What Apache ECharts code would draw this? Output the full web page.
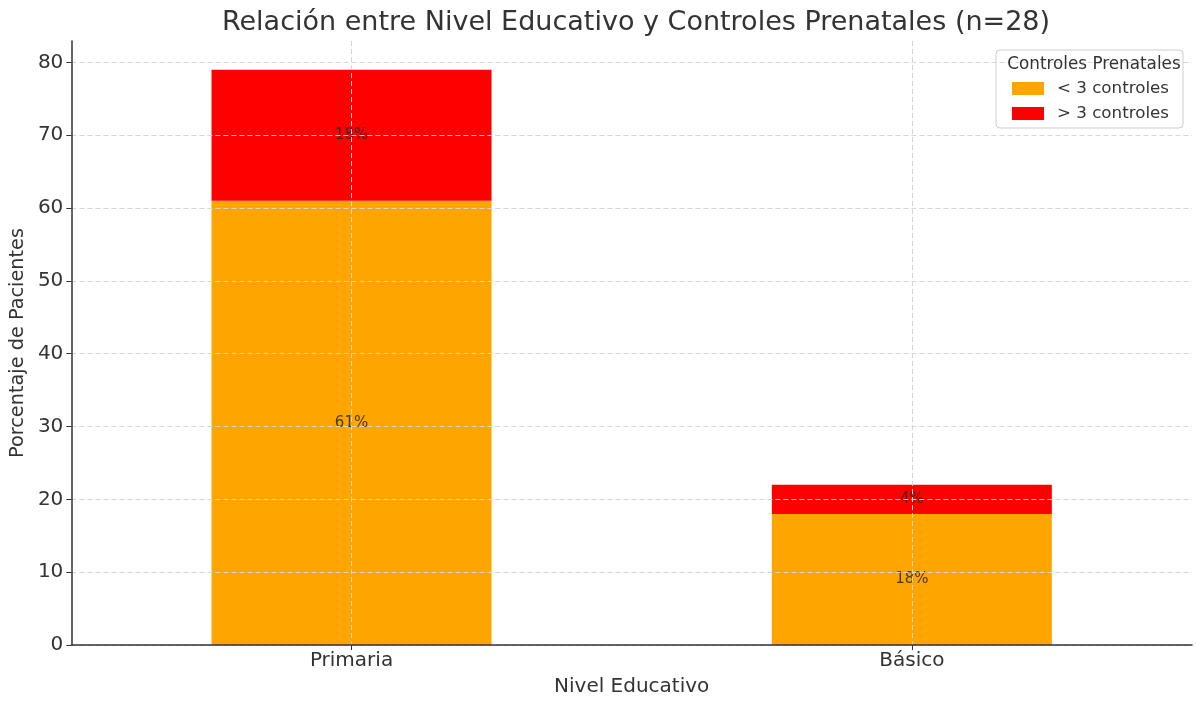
<!DOCTYPE html>
<html>
<head>
<meta charset="utf-8">
<script src="https://cdn.jsdelivr.net/npm/echarts@6/dist/echarts.min.js"></script>
<style>
    html, body { margin: 0; padding: 0; background: #fff; }
    #chart { width: 1196px; height: 702px; }
</style>
</head>
<body>
<div id="chart"></div>
<script>
    // datos
    const categorias = ['Primaria', 'Básico'];
    const menosDe3 = [61, 18];
    const masDe3 = [18, 4];
    const nombresSeries = ['< 3 controles', '> 3 controles'];
    const yMax = 82.95;

    const fuente = 'DejaVu Sans, sans-serif';
    const chart = echarts.init(document.getElementById('chart'));

    const etiqueta = {
        show: true,
        position: 'inside',
        color: 'rgba(40,40,40,0.85)',
        fontSize: 15,
        fontFamily: fuente,
        formatter(p) { return p.value + '%'; }
    };

    chart.setOption({
        backgroundColor: '#ffffff',
        animation: false,
        title: [{
            text: 'Relación entre Nivel Educativo y Controles Prenatales (n=28)',
            left: 631,
            top: 4,
            textAlign: 'center',
            textStyle: { color: '#333', fontSize: 27, fontWeight: 'normal', fontFamily: fuente }
        }, {
            text: 'Controles Prenatales',
            left: 1089,
            top: 51,
            textAlign: 'center',
            textStyle: { color: '#333', fontSize: 16.8, fontWeight: 'normal', fontFamily: fuente }
        }],
        legend: {
            orient: 'vertical',
            right: 13,
            top: 50,
            padding: [30, 14, 6, 16],
            itemWidth: 32,
            itemHeight: 13,
            itemGap: 8,
            borderColor: '#cccccc',
            borderWidth: 1,
            borderRadius: 4,
            icon: 'rect',
            textStyle: { color: '#333', fontSize: 16.7, fontFamily: fuente, padding: [0, 0, 0, 8] },
            data: nombresSeries
        },
        grid: {
            left: 70,
            right: 4,
            top: 41,
            bottom: 52,
            containLabel: false
        },
        xAxis: {
            type: 'category',
            data: categorias,
            z: 3,
            name: 'Nivel Educativo',
            nameLocation: 'middle',
            nameGap: 32,
            nameTextStyle: { color: '#333', fontSize: 20, fontFamily: fuente },
            axisLine: { lineStyle: { color: '#333', width: 1.5 } },
            axisTick: { show: true, alignWithLabel: true, length: 5, lineStyle: { color: '#333' } },
            axisLabel: { color: '#333', fontSize: 20, fontFamily: fuente, margin: 6 },
            splitLine: {
                show: true,
                alignWithLabel: true,
                lineStyle: { color: '#d6d6d6', type: [5, 3], width: 1 }
            }
        },
        yAxis: {
            type: 'value',
            min: 0,
            max: yMax,
            interval: 10,
            z: 3,
            name: 'Porcentaje de Pacientes',
            nameLocation: 'middle',
            nameGap: 44,
            nameTextStyle: { color: '#333', fontSize: 19.3, fontFamily: fuente },
            axisLine: { show: true, lineStyle: { color: '#333', width: 1.5 } },
            axisTick: { show: true, length: 5, lineStyle: { color: '#333' } },
            axisLabel: { color: '#333', fontSize: 20, fontFamily: fuente, margin: 8, showMaxLabel: false },
            splitLine: {
                show: true,
                showMaxLine: false,
                lineStyle: { color: '#d6d6d6', type: [5, 3], width: 1 }
            }
        },
        series: [{
            name: nombresSeries[0],
            type: 'bar',
            stack: 'total',
            barWidth: 280,
            itemStyle: { color: '#FFA500' },
            label: etiqueta,
            data: menosDe3
        }, {
            name: nombresSeries[1],
            type: 'bar',
            stack: 'total',
            barWidth: 280,
            itemStyle: { color: '#FF0000' },
            label: etiqueta,
            data: masDe3
        }]
    });
</script>
</body>
</html>
